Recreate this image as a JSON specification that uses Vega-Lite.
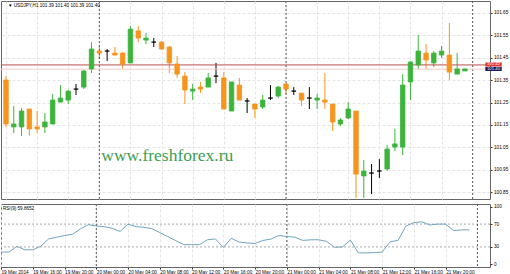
{
  "$schema": "https://vega.github.io/schema/vega-lite/v6.json",
  "padding": 0,
  "background": "white",
  "spacing": 3,
  "config": {
    "view": {"stroke": "#666", "strokeWidth": 1},
    "axis": {"labelFont": "Liberation Sans", "labelFontSize": 4.7, "labelColor": "#000", "tickColor": "#333", "tickSize": 2, "gridColor": "#e4e4e4", "gridDash": [3, 2], "domain": false, "title": null, "labelOverlap": false, "labelFlush": false, "tickCount": 40},
    "text": {"font": "Liberation Sans"}
  },
  "datasets": {
    "candles": [
      {"t": "2014-05-19 12:00", "o": 101.351, "h": 101.368, "l": 101.141, "c": 101.154, "rsi": 21},
      {"t": "2014-05-19 13:00", "o": 101.141, "h": 101.234, "l": 101.114, "c": 101.154, "rsi": 21},
      {"t": "2014-05-19 14:00", "o": 101.141, "h": 101.225, "l": 101.101, "c": 101.212, "rsi": 31},
      {"t": "2014-05-19 15:00", "o": 101.221, "h": 101.221, "l": 101.101, "c": 101.132, "rsi": 25},
      {"t": "2014-05-19 16:00", "o": 101.141, "h": 101.212, "l": 101.114, "c": 101.132, "rsi": 25},
      {"t": "2014-05-19 17:00", "o": 101.141, "h": 101.203, "l": 101.114, "c": 101.163, "rsi": 31},
      {"t": "2014-05-19 18:00", "o": 101.154, "h": 101.288, "l": 101.154, "c": 101.261, "rsi": 44},
      {"t": "2014-05-19 19:00", "o": 101.252, "h": 101.328, "l": 101.252, "c": 101.270, "rsi": 47},
      {"t": "2014-05-19 20:00", "o": 101.261, "h": 101.306, "l": 101.243, "c": 101.301, "rsi": 50},
      {"t": "2014-05-19 21:00", "o": 101.310, "h": 101.333, "l": 101.284, "c": 101.310, "rsi": 52},
      {"t": "2014-05-19 22:00", "o": 101.319, "h": 101.395, "l": 101.310, "c": 101.391, "rsi": 61.5},
      {"t": "2014-05-19 23:00", "o": 101.400, "h": 101.520, "l": 101.382, "c": 101.489, "rsi": 69},
      {"t": "2014-05-20 00:00", "o": 101.480, "h": 101.498, "l": 101.444, "c": 101.471, "rsi": 66.7},
      {"t": "2014-05-20 01:00", "o": 101.480, "h": 101.489, "l": 101.435, "c": 101.480, "rsi": 65.5},
      {"t": "2014-05-20 02:00", "o": 101.471, "h": 101.498, "l": 101.462, "c": 101.462, "rsi": 62.6},
      {"t": "2014-05-20 03:00", "o": 101.471, "h": 101.476, "l": 101.400, "c": 101.422, "rsi": 57},
      {"t": "2014-05-20 04:00", "o": 101.427, "h": 101.592, "l": 101.427, "c": 101.578, "rsi": 70},
      {"t": "2014-05-20 05:00", "o": 101.570, "h": 101.592, "l": 101.520, "c": 101.538, "rsi": 65.5},
      {"t": "2014-05-20 06:00", "o": 101.529, "h": 101.561, "l": 101.511, "c": 101.538, "rsi": 64.3},
      {"t": "2014-05-20 07:00", "o": 101.520, "h": 101.538, "l": 101.498, "c": 101.520, "rsi": 62},
      {"t": "2014-05-20 08:00", "o": 101.520, "h": 101.525, "l": 101.485, "c": 101.489, "rsi": 55},
      {"t": "2014-05-20 09:00", "o": 101.498, "h": 101.503, "l": 101.382, "c": 101.427, "rsi": 48},
      {"t": "2014-05-20 10:00", "o": 101.422, "h": 101.458, "l": 101.360, "c": 101.377, "rsi": 41},
      {"t": "2014-05-20 11:00", "o": 101.368, "h": 101.386, "l": 101.243, "c": 101.306, "rsi": 34},
      {"t": "2014-05-20 12:00", "o": 101.301, "h": 101.333, "l": 101.261, "c": 101.310, "rsi": 34},
      {"t": "2014-05-20 13:00", "o": 101.319, "h": 101.342, "l": 101.292, "c": 101.310, "rsi": 34},
      {"t": "2014-05-20 14:00", "o": 101.319, "h": 101.382, "l": 101.319, "c": 101.360, "rsi": 42.5},
      {"t": "2014-05-20 15:00", "o": 101.368, "h": 101.427, "l": 101.337, "c": 101.368, "rsi": 44},
      {"t": "2014-05-20 16:00", "o": 101.360, "h": 101.386, "l": 101.221, "c": 101.221, "rsi": 29},
      {"t": "2014-05-20 17:00", "o": 101.212, "h": 101.342, "l": 101.212, "c": 101.342, "rsi": 45},
      {"t": "2014-05-20 18:00", "o": 101.328, "h": 101.360, "l": 101.261, "c": 101.261, "rsi": 38.5},
      {"t": "2014-05-20 19:00", "o": 101.257, "h": 101.270, "l": 101.203, "c": 101.257, "rsi": 37},
      {"t": "2014-05-20 20:00", "o": 101.243, "h": 101.243, "l": 101.181, "c": 101.221, "rsi": 36},
      {"t": "2014-05-20 21:00", "o": 101.230, "h": 101.284, "l": 101.221, "c": 101.261, "rsi": 41.4},
      {"t": "2014-05-20 22:00", "o": 101.270, "h": 101.328, "l": 101.261, "c": 101.270, "rsi": 43.7},
      {"t": "2014-05-20 23:00", "o": 101.279, "h": 101.324, "l": 101.270, "c": 101.319, "rsi": 50},
      {"t": "2014-05-21 00:00", "o": 101.333, "h": 101.337, "l": 101.288, "c": 101.310, "rsi": 48.3},
      {"t": "2014-05-21 01:00", "o": 101.301, "h": 101.319, "l": 101.284, "c": 101.301, "rsi": 47},
      {"t": "2014-05-21 02:00", "o": 101.292, "h": 101.292, "l": 101.234, "c": 101.261, "rsi": 41.4},
      {"t": "2014-05-21 03:00", "o": 101.270, "h": 101.319, "l": 101.221, "c": 101.270, "rsi": 42.5},
      {"t": "2014-05-21 04:00", "o": 101.261, "h": 101.288, "l": 101.221, "c": 101.270, "rsi": 42.5},
      {"t": "2014-05-21 05:00", "o": 101.261, "h": 101.382, "l": 101.221, "c": 101.252, "rsi": 39.7},
      {"t": "2014-05-21 06:00", "o": 101.243, "h": 101.243, "l": 101.123, "c": 101.163, "rsi": 29.3},
      {"t": "2014-05-21 07:00", "o": 101.154, "h": 101.181, "l": 101.145, "c": 101.172, "rsi": 29.9},
      {"t": "2014-05-21 08:00", "o": 101.181, "h": 101.252, "l": 101.176, "c": 101.221, "rsi": 42},
      {"t": "2014-05-21 09:00", "o": 101.212, "h": 101.212, "l": 100.823, "c": 100.930, "rsi": 19.5},
      {"t": "2014-05-21 10:00", "o": 100.922, "h": 100.993, "l": 100.823, "c": 100.944, "rsi": 19.5},
      {"t": "2014-05-21 11:00", "o": 100.935, "h": 100.975, "l": 100.841, "c": 100.935, "rsi": 20},
      {"t": "2014-05-21 12:00", "o": 100.944, "h": 100.997, "l": 100.913, "c": 100.944, "rsi": 21},
      {"t": "2014-05-21 13:00", "o": 100.953, "h": 101.060, "l": 100.944, "c": 101.042, "rsi": 39},
      {"t": "2014-05-21 14:00", "o": 101.051, "h": 101.132, "l": 101.033, "c": 101.065, "rsi": 41.4},
      {"t": "2014-05-21 15:00", "o": 101.051, "h": 101.377, "l": 101.015, "c": 101.328, "rsi": 66.7},
      {"t": "2014-05-21 16:00", "o": 101.342, "h": 101.435, "l": 101.261, "c": 101.431, "rsi": 72.4},
      {"t": "2014-05-21 17:00", "o": 101.418, "h": 101.552, "l": 101.400, "c": 101.480, "rsi": 74},
      {"t": "2014-05-21 18:00", "o": 101.471, "h": 101.511, "l": 101.400, "c": 101.440, "rsi": 68.4},
      {"t": "2014-05-21 19:00", "o": 101.427, "h": 101.480, "l": 101.409, "c": 101.471, "rsi": 70},
      {"t": "2014-05-21 20:00", "o": 101.462, "h": 101.503, "l": 101.449, "c": 101.480, "rsi": 70},
      {"t": "2014-05-21 21:00", "o": 101.462, "h": 101.605, "l": 101.351, "c": 101.386, "rsi": 58.6},
      {"t": "2014-05-21 22:00", "o": 101.377, "h": 101.471, "l": 101.377, "c": 101.400, "rsi": 59.8},
      {"t": "2014-05-21 23:00", "o": 101.391, "h": 101.400, "l": 101.391, "c": 101.400, "rsi": 59.87}
    ],
    "days": [{"t": "2014-05-20 00:00"}, {"t": "2014-05-21 00:00"}, {"t": "2014-05-22 00:00"}]
  },
  "vconcat": [
    {
      "width": 489,
      "height": 198,
      "encoding": {
        "x": {
          "field": "t", "type": "temporal",
          "scale": {"domain": ["2014-05-19 12:00", "2014-05-22 01:35"], "nice": false},
          "axis": {
            "labels": false, "ticks": false, "grid": true, "tickCount": 40,
            "values": [
              {"year": 2014, "month": 5, "date": 19, "hours": 12}, {"year": 2014, "month": 5, "date": 19, "hours": 16}, {"year": 2014, "month": 5, "date": 19, "hours": 20},
              {"year": 2014, "month": 5, "date": 20, "hours": 0}, {"year": 2014, "month": 5, "date": 20, "hours": 4}, {"year": 2014, "month": 5, "date": 20, "hours": 8},
              {"year": 2014, "month": 5, "date": 20, "hours": 12}, {"year": 2014, "month": 5, "date": 20, "hours": 16}, {"year": 2014, "month": 5, "date": 20, "hours": 20},
              {"year": 2014, "month": 5, "date": 21, "hours": 0}, {"year": 2014, "month": 5, "date": 21, "hours": 4}, {"year": 2014, "month": 5, "date": 21, "hours": 8},
              {"year": 2014, "month": 5, "date": 21, "hours": 12}, {"year": 2014, "month": 5, "date": 21, "hours": 16}, {"year": 2014, "month": 5, "date": 21, "hours": 20}
            ]
          }
        }
      },
      "layer": [
        {
          "data": {"name": "candles"},
          "mark": {"type": "rule", "strokeWidth": 1, "clip": true},
          "encoding": {
            "y": {"field": "l", "type": "quantitative", "scale": {"domain": [100.819, 101.7036], "nice": false, "zero": false},
              "axis": {"orient": "right", "grid": true, "labelOverlap": false, "tickCount": 40, "values": [100.85, 100.95, 101.05, 101.15, 101.25, 101.35, 101.45, 101.55, 101.65], "format": ".2f", "labelPadding": 1.5}},
            "y2": {"field": "h"},
            "color": {"condition": [{"test": "datum.c > datum.o", "value": "#3cb43c"}, {"test": "datum.c < datum.o", "value": "#f7941d"}], "value": "#000000"}
          }
        },
        {
          "data": {"name": "days"},
          "mark": {"type": "rule", "strokeDash": [2, 2], "color": "#555", "strokeWidth": 1, "clip": true},
          "encoding": {}
        },
        {
          "data": {"values": [{"level": 101.418}]},
          "mark": {"type": "rule", "color": "#b8524e", "strokeWidth": 1},
          "encoding": {"x": null, "y": {"field": "level", "type": "quantitative"}}
        },
        {
          "data": {"values": [{"level": 101.399}]},
          "mark": {"type": "rule", "color": "#f3cccc", "strokeWidth": 1},
          "encoding": {"x": null, "y": {"field": "level", "type": "quantitative"}}
        },
        {
          "data": {"name": "candles"},
          "mark": {"type": "bar", "size": 4.5, "strokeWidth": 0.8, "clip": true},
          "encoding": {
            "y": {"field": "o", "type": "quantitative"},
            "y2": {"field": "c"},
            "fill": {"condition": [{"test": "datum.c > datum.o", "value": "#3cb43c"}, {"test": "datum.c < datum.o", "value": "#f7941d"}], "value": "#000000"},
            "stroke": {"condition": [{"test": "datum.c > datum.o", "value": "#3cb43c"}, {"test": "datum.c < datum.o", "value": "#f7941d"}], "value": "#000000"}
          }
        },
        {
          "data": {"values": [{"label": "www.freshforex.ru", "t": "2014-05-20 00:15", "p": 100.9886}]},
          "mark": {"type": "text", "font": "Liberation Serif", "fontSize": 17.5, "color": "#3d9e50", "align": "left", "baseline": "alphabetic"},
          "encoding": {
            "y": {"field": "p", "type": "quantitative"},
            "text": {"field": "label"}
          }
        },
        {
          "data": {"values": [{"label": "▼ USDJPY,H1 101.39 101.40 101.39 101.40", "t": "2014-05-19 12:15", "p": 101.682}]},
          "mark": {"type": "text", "fontSize": 4.6, "color": "#000", "align": "left", "baseline": "middle"},
          "encoding": {
            "y": {"field": "p", "type": "quantitative"},
            "text": {"field": "label"}
          }
        },
        {
          "data": {"values": [{"t": "2014-05-22 01:38", "t2": "2014-05-22 03:44", "y1": 101.429, "y2": 101.411, "bg": "ask"}, {"t": "2014-05-22 01:38", "t2": "2014-05-22 03:44", "y1": 101.409, "y2": 101.391, "bg": "bid"}]},
          "mark": {"type": "rect"},
          "encoding": {
            "x2": {"field": "t2"},
            "y": {"field": "y1", "type": "quantitative"},
            "y2": {"field": "y2"},
            "fill": {"field": "bg", "type": "nominal", "scale": {"domain": ["ask", "bid"], "range": ["#e2352c", "#141452"]}, "legend": null}
          }
        },
        {
          "data": {"values": [{"label": "101.42", "t": "2014-05-22 02:41", "ym": 101.420}, {"label": "101.40", "t": "2014-05-22 02:41", "ym": 101.400}]},
          "mark": {"type": "text", "fontSize": 4.3, "color": "#ffffff", "align": "center", "baseline": "middle"},
          "encoding": {
            "y": {"field": "ym", "type": "quantitative"},
            "text": {"field": "label"}
          }
        }
      ]
    },
    {
      "width": 489,
      "height": 63,
      "encoding": {
        "x": {
          "field": "t", "type": "temporal",
          "scale": {"domain": ["2014-05-19 12:00", "2014-05-22 01:35"], "nice": false},
          "axis": {
            "labels": true, "ticks": true, "grid": true, "tickSize": 2, "tickCount": 40, "labelAlign": "left", "labelPadding": 0.5, "labelDx": 0, "labelOverlap": false,
            "labelExpr": "datum.index == 0 ? '19 May 2014' : timeFormat(datum.value, '%d %b %H:%M')",
            "values": [
              {"year": 2014, "month": 5, "date": 19, "hours": 12}, {"year": 2014, "month": 5, "date": 19, "hours": 16}, {"year": 2014, "month": 5, "date": 19, "hours": 20},
              {"year": 2014, "month": 5, "date": 20, "hours": 0}, {"year": 2014, "month": 5, "date": 20, "hours": 4}, {"year": 2014, "month": 5, "date": 20, "hours": 8},
              {"year": 2014, "month": 5, "date": 20, "hours": 12}, {"year": 2014, "month": 5, "date": 20, "hours": 16}, {"year": 2014, "month": 5, "date": 20, "hours": 20},
              {"year": 2014, "month": 5, "date": 21, "hours": 0}, {"year": 2014, "month": 5, "date": 21, "hours": 4}, {"year": 2014, "month": 5, "date": 21, "hours": 8},
              {"year": 2014, "month": 5, "date": 21, "hours": 12}, {"year": 2014, "month": 5, "date": 21, "hours": 16}, {"year": 2014, "month": 5, "date": 21, "hours": 20}
            ]
          }
        }
      },
      "layer": [
        {
          "data": {"values": [{"level": 70}, {"level": 30}]},
          "mark": {"type": "rule", "strokeDash": [2, 2], "color": "#aaaaaa", "strokeWidth": 1},
          "encoding": {"x": null, "y": {"field": "level", "type": "quantitative", "scale": {"domain": [-5.2, 105.2], "nice": false, "zero": false},
            "axis": {"orient": "right", "grid": false, "labelOverlap": false, "tickCount": 40, "values": [0, 30, 70, 100], "labelPadding": 1.5}}}
        },
        {
          "data": {"name": "days"},
          "mark": {"type": "rule", "strokeDash": [2, 2], "color": "#555", "strokeWidth": 1, "clip": true},
          "encoding": {}
        },
        {
          "data": {"name": "candles"},
          "mark": {"type": "line", "color": "#6fa6c2", "strokeWidth": 1, "clip": true},
          "encoding": {"y": {"field": "rsi", "type": "quantitative"}}
        },
        {
          "data": {"values": [{"label": "RSI(9) 59.8652", "t": "2014-05-19 12:15", "r": 96.6}]},
          "mark": {"type": "text", "fontSize": 4.6, "color": "#000", "align": "left", "baseline": "middle"},
          "encoding": {
            "y": {"field": "r", "type": "quantitative"},
            "text": {"field": "label"}
          }
        }
      ]
    }
  ]
}
